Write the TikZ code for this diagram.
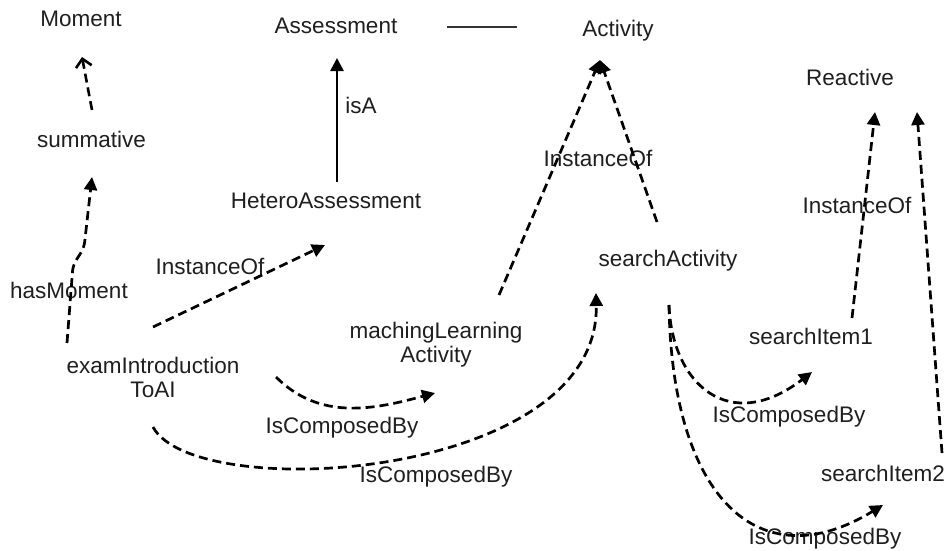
\documentclass[tikz,border=0pt]{standalone}
\usepackage{fontspec}
\setmainfont{Liberation Sans}
\usetikzlibrary{arrows.meta,calc}
\newcommand{\twoline}[2]{\begin{tabular}[t]{@{}c@{}}#1\\#2\end{tabular}}
\begin{document}
\begin{tikzpicture}[x=1pt,y=-1pt,
  txt/.style={inner sep=0pt,anchor=base,font=\fontsize{22.5}{24.5}\selectfont,text=black!88},
  rel/.style={line width=2.7pt,dash pattern=on 9pt off 5pt,-{Triangle[length=13pt,width=13pt]}},
  isa/.style={line width=2.6pt,-{Triangle[length=13pt,width=13pt]}},
  openrel/.style={line width=2.6pt,dash pattern=on 9pt off 5pt,-{Straight Barb[length=8pt,width=16pt]}},
  stub/.style={line width=1.5pt,black!80}]
\path[use as bounding box,fill=white] (0,0) rectangle (947,550);

% concepts and instances
\node[txt] (moment)   at (81,26)   {Moment};
\node[txt] (assess)   at (336,33)  {Assessment};
\node[txt] (activity) at (618,36)  {Activity};
\node[txt] (reactive) at (850,85)  {Reactive};
\node[txt] (summ)     at (91.5,147) {summative};
\node[txt] (hetero)   at (326,208) {HeteroAssessment};
\node[txt] (exam)     at (153,373) {\twoline{examIntroduction}{ToAI}};
\node[txt] (maching)  at (436,338) {\twoline{machingLearning}{Activity}};
\node[txt] (sact)     at (668,266) {searchActivity};
\node[txt] (item1)    at (811,344) {searchItem1};
\node[txt] (item2)    at (883,481) {searchItem2};

% relation labels
\node[txt] (l-isa)   at (361,113) {isA};
\node[txt] (l-inst1) at (210,274) {InstanceOf};
\node[txt] (l-hasm)  at (69,298)  {hasMoment};
\node[txt] (l-comp1) at (342,433) {IsComposedBy};
\node[txt] (l-comp2) at (436,482) {IsComposedBy};
\node[txt] (l-inst2) at (598,166) {InstanceOf};
\node[txt] (l-inst3) at (857,213) {InstanceOf};
\node[txt] (l-comp3) at (789,422) {IsComposedBy};
\node[txt] (l-comp4) at (825,544) {IsComposedBy};

% connector ends
\coordinate (act-in)   at ($(activity.base)+(-18,24)$);
\coordinate (sact-out) at ($(sact.base)+(1,39)$);
\coordinate (exam-low) at ($(exam.base)+(0,54)$);
\coordinate (sact-in)  at ($(sact.base)+(-72,27)$);
\coordinate (item1-in) at ($(item1.base)+(1,28)$);
\coordinate (item2-in) at ($(item2.base)+(0,24)$);
\coordinate (hasm-a)   at ($(exam.base)+(-86,-30)$);

% summative -> Moment
\draw[openrel] ($(summ.base)+(0.5,-37)$) -- ($(moment.base)+(1,31)$);
% hasMoment
\draw[rel,rounded corners=6pt] (hasm-a) -- ++(6,-78) -- ++(11,-17) -- ($(summ.base)+(0.5,30)$);
% InstanceOf HeteroAssessment
\draw[rel] ($(exam.base)+(0,-46)$) -- ($(hetero.base)+(-1,37)$);
% isA
\draw[isa] ($(hetero.base)+(11,-26)$) -- ($(assess.base)+(1,25)$);
\draw[stub] ($(assess.base)+(111,-6)$) -- ++(70,0);
% IsComposedBy machingLearningActivity
\draw[rel] ($(exam.base)+(123,4)$) to[out=-45,in=195] ($(maching.base)+(-1,55)$);
% IsComposedBy searchActivity
\draw[rel] (exam-low) .. controls ($(exam-low)+(42,78)$) and ($(sact-in)+(4,187)$) .. (sact-in);
% InstanceOf Activity
\draw[rel] ($(maching.base)+(63,-43)$) -- (act-in);
\draw[rel] ($(sact.base)+(-11,-44)$) -- (act-in);
% searchActivity -> searchItem1 / searchItem2
\draw[rel] (sact-out) .. controls ($(sact-out)+(3,80)$) and ($(item1-in)+(-82,63)$) .. (item1-in);
\draw[rel] (sact-out) .. controls ($(sact-out)+(3,195)$) and ($(item2-in)+(-123,75)$) .. (item2-in);
% InstanceOf Reactive
\draw[rel] ($(item1.base)+(41,-26)$) -- ($(reactive.base)+(25,27)$);
\draw[rel] ($(item2.base)+(59,-28)$) -- ($(reactive.base)+(67,27)$);
\end{tikzpicture}
\end{document}
